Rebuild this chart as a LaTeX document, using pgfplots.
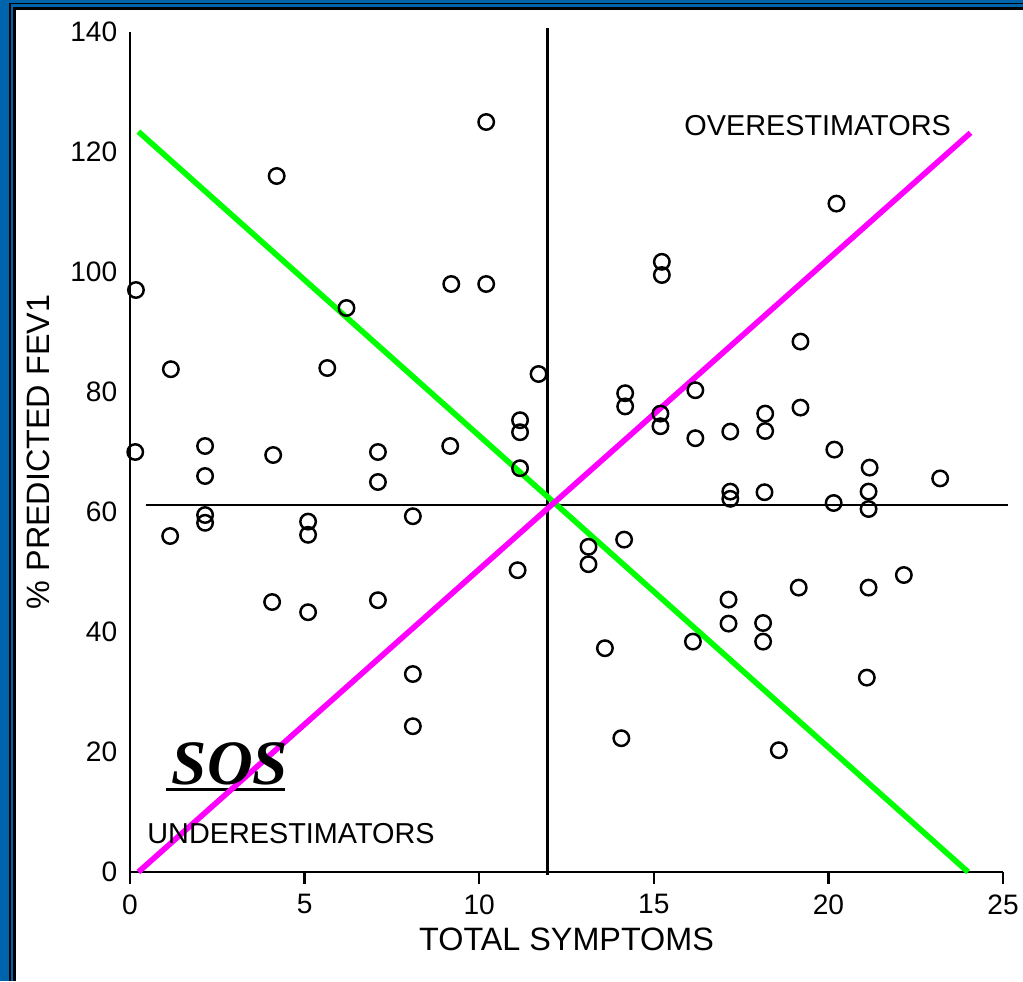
\documentclass[border=0pt]{standalone}
\usepackage{fontspec}
\setmainfont{Liberation Sans}
\newfontfamily\sosfont{Liberation Serif}
\usepackage{pgfplots}
\pgfplotsset{compat=1.18}
\definecolor{bblue}{RGB}{0,100,172}
\begin{document}
\begin{tikzpicture}
\useasboundingbox (0,0) rectangle (10.23,9.81);
\fill[white] (0,0) rectangle (10.23,9.81);
\fill[bblue] (0,9.71) rectangle (10.23,9.81);
\fill[bblue] (0,0) rectangle (0.16,9.81);
\fill[black] (0.09,0) rectangle (0.11,9.783);
\fill[black] (0.09,9.77) rectangle (10.23,9.783);
\fill[black] (0.133,0) rectangle (0.16,9.743);
\fill[black] (0.133,9.71) rectangle (10.23,9.743);
\begin{axis}[
  at={(1.30cm,1.09cm)}, anchor=south west,
  scale only axis, width=8.73cm, height=8.40cm,
  xmin=0, xmax=25, ymin=0, ymax=140,
  axis lines=left,
  axis line style={-, line width=0.7pt},
  clip=false,
  xtick={0,5,10,15,20,25},
  ytick={0,20,40,60,80,100,120,140},
  x tick style={line width=0.7pt, black},
  y tick style={draw=none},
  tick align=outside,
  major tick length=3.4pt,
  /pgf/number format/assume math mode=true,
  tick label style={font=\fontsize{8}{9}\selectfont},
  xticklabel style={yshift=0.5pt},
  yticklabel style={xshift=3.3pt},
  xlabel={TOTAL SYMPTOMS},
  ylabel={\% PREDICTED FEV1},
  label style={font=\fontsize{9.2}{11}\selectfont},
  xlabel shift=-3pt,
  ylabel shift=-1pt,
]
\addplot[only marks, mark=o, mark size=2.2pt, mark options={line width=0.7pt, black}] coordinates {
(0.17,97) (0.15,70) (1.17,83.8) (1.15,56) (2.15,71) (2.15,66) (2.15,59.5) (2.15,58.2)
(4.2,116) (4.1,69.5) (4.07,45) (5.1,43.3) (5.1,58.4) (5.1,56.2) (6.2,94) (5.65,84)
(7.1,70) (7.1,65) (7.1,45.3) (8.1,33) (8.1,24.3) (8.1,59.3) (9.2,98) (9.17,71)
(10.2,125) (10.2,98) (11.7,83) (11.17,75.3) (11.17,73.3) (11.17,67.3) (11.1,50.3)
(15.23,101.7) (15.23,99.5) (20.23,111.4) (19.2,88.4) (16.19,80.3) (14.18,79.8) (14.18,77.6)
(19.2,77.4) (15.19,76.4) (15.19,74.3) (18.19,76.4) (18.19,73.5) (16.19,72.3) (17.19,73.4)
(20.17,70.4) (21.18,67.4) (23.2,65.6) (17.19,63.4) (17.19,62.2) (18.17,63.3) (20.15,61.5)
(21.15,63.4) (21.15,60.5) (13.13,54.2) (13.13,51.3) (14.15,55.4) (22.16,49.5) (19.15,47.4)
(21.15,47.4) (17.14,45.4) (17.14,41.4) (18.13,41.5) (18.13,38.4) (13.6,37.3) (16.12,38.4)
(21.1,32.4) (14.07,22.3) (18.58,20.3)
};
\addplot[black, line width=0.7pt] coordinates {(11.95,-0.5) (11.95,140.7)};
\addplot[black, line width=0.7pt] coordinates {(0.45,61.2) (25.15,61.2)};
\addplot[black, line width=0.85pt] coordinates {(1.03,13.7) (4.44,13.7)};
\addplot[color={rgb,255:red,0;green,255;blue,0}, line width=1.6pt] coordinates {(0.24,123.4) (24.0,0)};
\addplot[color={rgb,255:red,255;green,0;blue,255}, line width=1.6pt] coordinates {(0.24,0) (24.07,123.2)};
\node[anchor=base, font=\fontsize{8.2}{10}\selectfont] at (axis cs:19.69,122.8) {OVERESTIMATORS};
\node[anchor=base, font=\fontsize{8.2}{10}\selectfont] at (axis cs:4.61,4.83) {UNDERESTIMATORS};
\node[anchor=base, font=\fontsize{18}{20}\sosfont\bfseries\itshape] at (axis cs:2.86,14.6) {SOS};
\end{axis}
\end{tikzpicture}
\end{document}
